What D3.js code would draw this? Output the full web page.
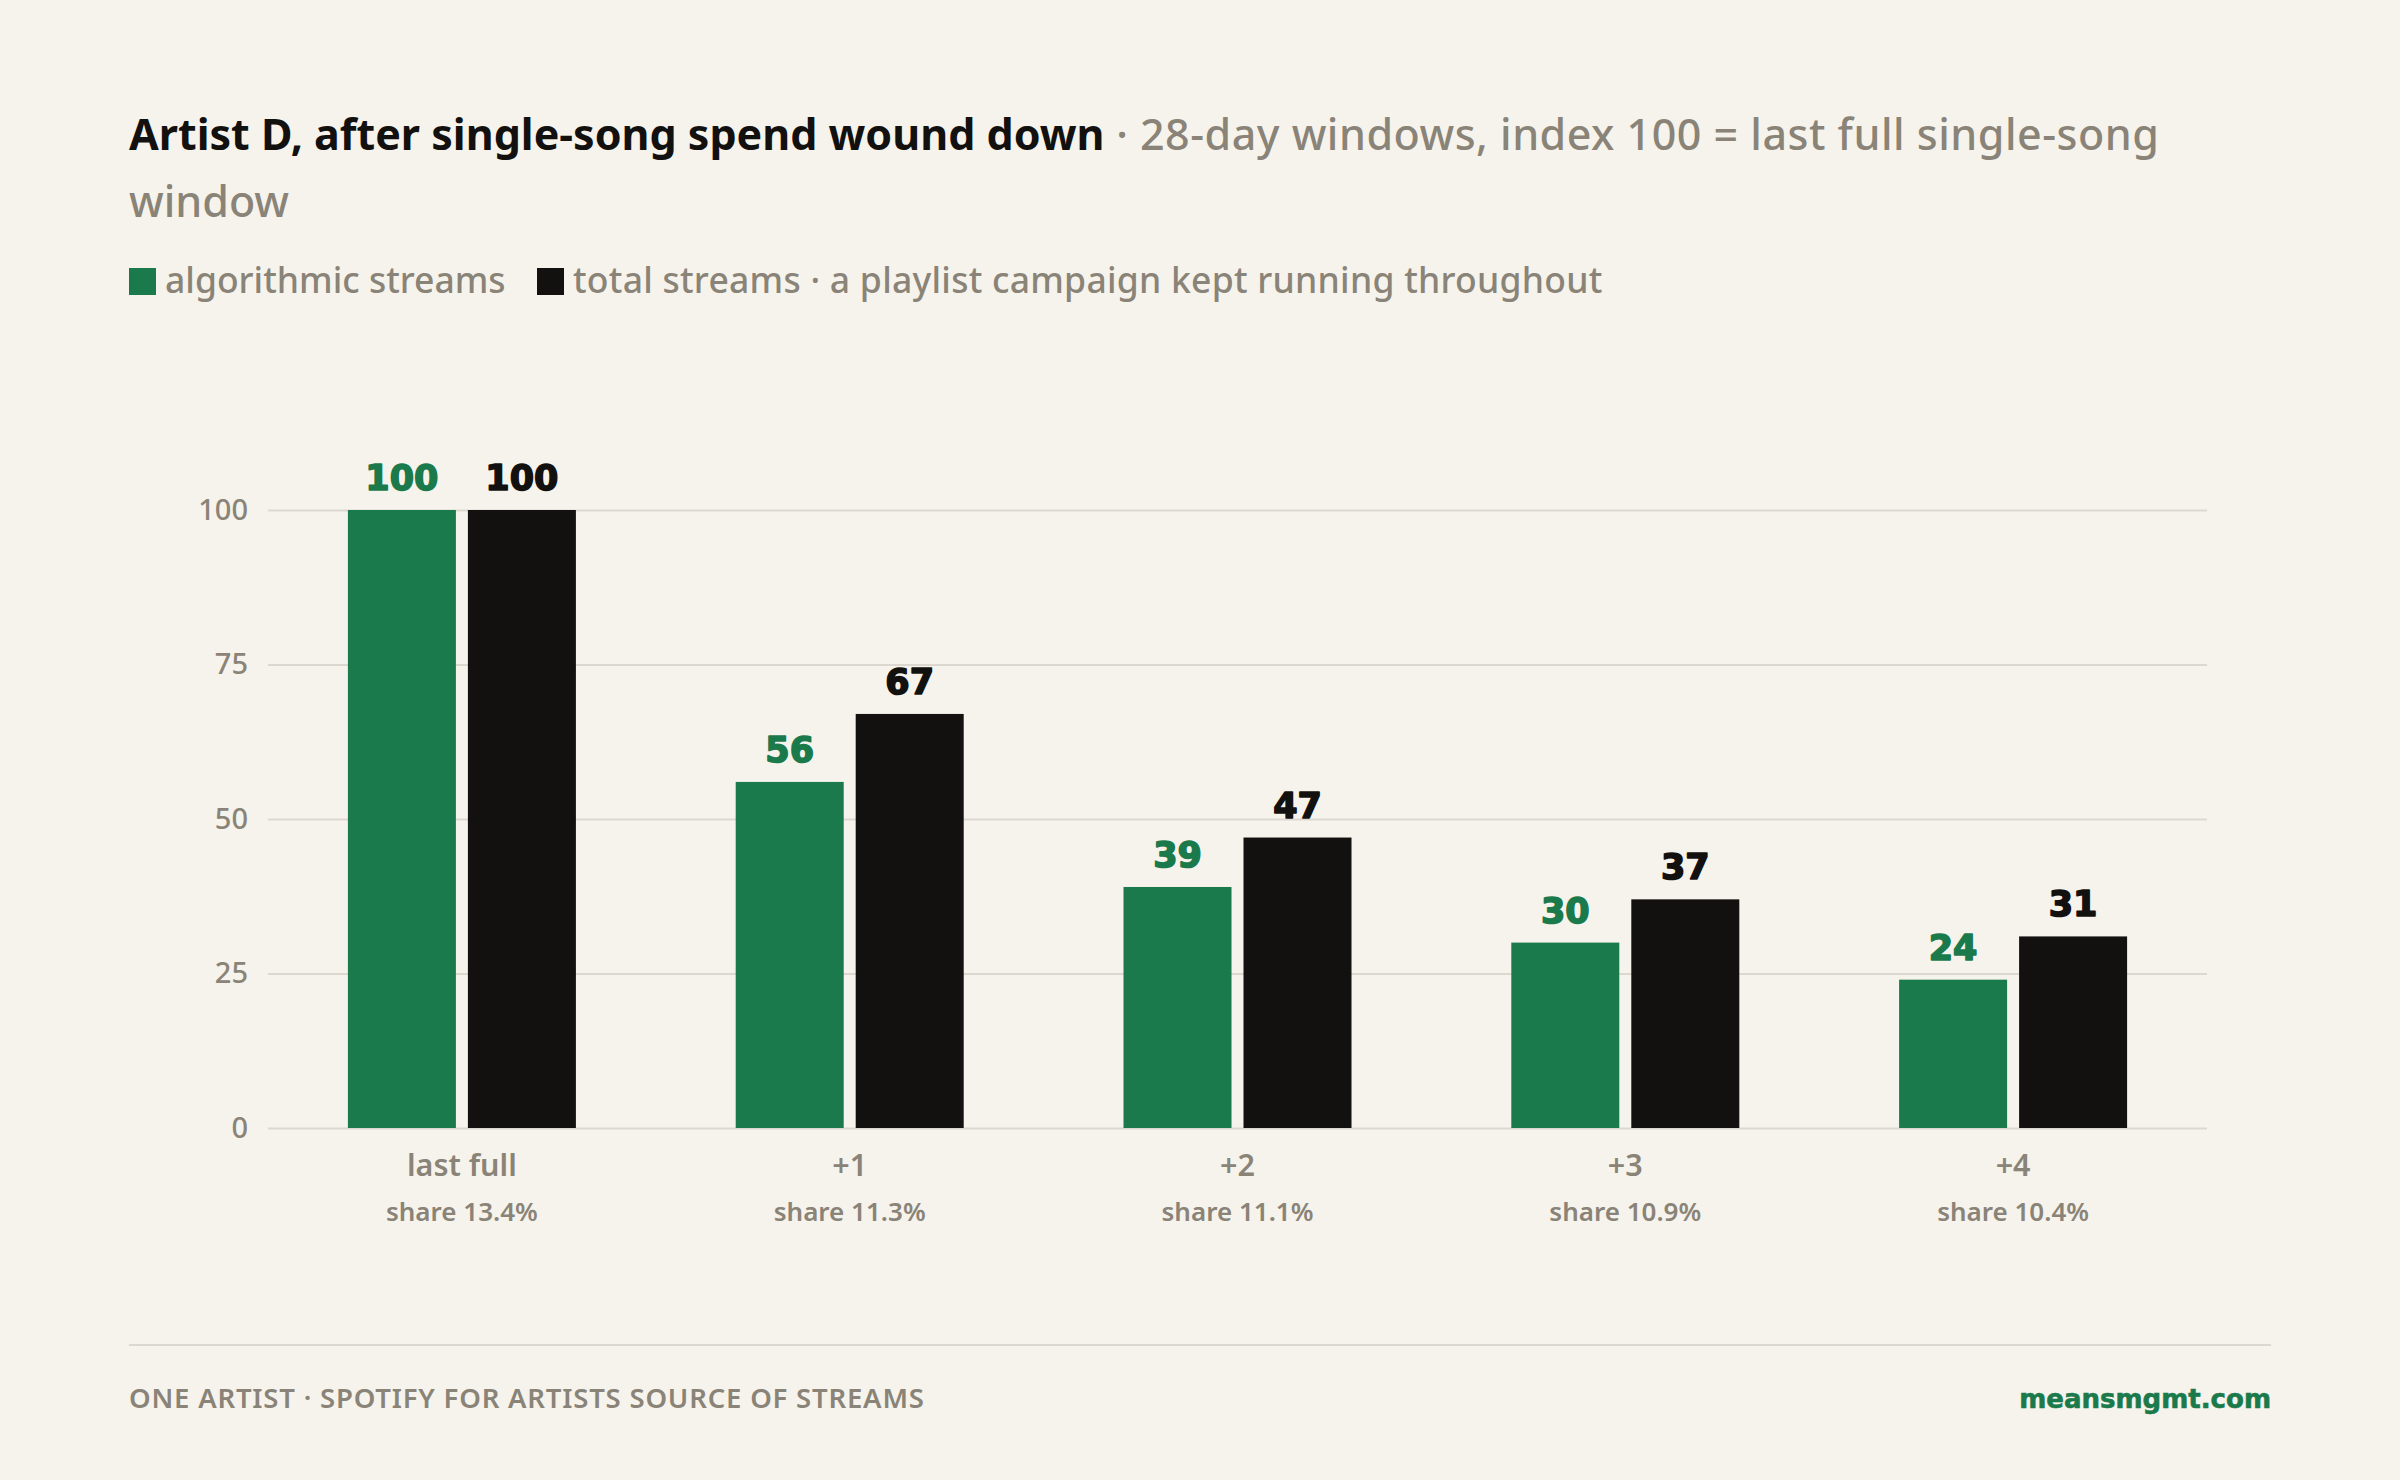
<!DOCTYPE html>
<html><head><meta charset="utf-8">
<script src="https://cdn.jsdelivr.net/npm/d3@7/dist/d3.min.js"></script>
<style>
html,body{margin:0;padding:0;background:#f6f3ec;}
svg{display:block;}
</style></head>
<body>
<script>
const categories = ["last full", "+1", "+2", "+3", "+4"];
const shareLabels = ["share 13.4%", "share 11.3%", "share 11.1%", "share 10.9%", "share 10.4%"];
const algorithmic = [100, 56, 39, 30, 24];
const total = [100, 67, 47, 37, 31];
const seriesNames = ["algorithmic streams", "total streams · a playlist campaign kept running throughout"];
const yTicks = [0, 25, 50, 75, 100];

const W = 2400, H = 1480;
const C = {bg:"#f6f3ec", green:"#1b7a4b", black:"#12110f", gray:"#8a8377", grid:"#ddd8cf"};
const F = "'Noto Sans', 'Open Sans', sans-serif";
const FV = "'DejaVu Sans', sans-serif";

const svg = d3.select("body").append("svg").attr("width", W).attr("height", H);
svg.append("rect").attr("width", W).attr("height", H).attr("fill", C.bg);

// Title
const t = svg.append("text").attr("x", 129).attr("y", 150).attr("font-family", F).attr("font-size", 43);
t.append("tspan").attr("font-weight", 700).attr("fill", C.black).text("Artist D, after single-song spend wound down");
t.append("tspan").attr("font-weight", 500).attr("fill", C.gray).attr("letter-spacing", 0.5).text(" · 28-day windows, index 100 = last full single-song");
svg.append("text").attr("x", 129).attr("y", 217).attr("font-family", F).attr("font-size", 43)
  .attr("font-weight", 500).attr("fill", C.gray).text("window");

// Legend
const legColors = [C.green, C.black];
const legX = [129, 537];
seriesNames.forEach((n, i) => {
  svg.append("rect").attr("x", legX[i]).attr("y", 268).attr("width", 27).attr("height", 27).attr("fill", legColors[i]);
  svg.append("text").attr("x", legX[i] + 36).attr("y", 293).attr("font-family", F).attr("font-size", 35.5)
    .attr("font-weight", 500).attr("fill", C.gray).attr("letter-spacing", i === 1 ? 0.25 : 0).text(n);
});

// Scales
const x0 = d3.scaleBand().domain(categories).range([268, 2207]);
const x1 = d3.scaleBand().domain([0, 1]).range([0, 228]).paddingInner(0.1);
const y = d3.scaleLinear().domain([0, 100]).range([1128, 510]);

// Grid
const yAxis = d3.axisLeft(y).tickValues(yTicks).tickSize(-(2207 - 268)).tickPadding(20);
const ga = svg.append("g").attr("transform", "translate(268,0)").call(yAxis);
ga.select(".domain").remove();
ga.selectAll(".tick line").attr("stroke", C.grid).attr("stroke-width", 2);
ga.selectAll(".tick text").attr("font-family", F).attr("font-size", 29).attr("font-weight", 500).attr("fill", C.gray);

// Bars
const series = [algorithmic, total];
const groups = svg.append("g").selectAll("g").data(categories).join("g")
  .attr("transform", c => `translate(${x0(c) + (x0.bandwidth() - 228) / 2},0)`);
series.forEach((vals, si) => {
  groups.append("rect")
    .attr("x", x1(si)).attr("width", x1.bandwidth())
    .attr("y", (c, i) => y(vals[i])).attr("height", (c, i) => y(0) - y(vals[i]))
    .attr("fill", legColors[si]);
  groups.append("text")
    .attr("x", x1(si) + x1.bandwidth() / 2).attr("y", (c, i) => y(vals[i]) - 20)
    .attr("text-anchor", "middle").attr("font-family", FV).attr("font-weight", 900).attr("font-size", 35)
    .attr("fill", legColors[si]).attr("stroke", legColors[si]).attr("stroke-width", 1.6)
    .attr("stroke-linejoin", "round").text((c, i) => vals[i]);
});

// X labels
const xa = svg.append("g");
categories.forEach((c, i) => {
  const cx = x0(c) + x0.bandwidth() / 2;
  xa.append("text").attr("x", cx).attr("y", 1176).attr("text-anchor", "middle").attr("font-family", F)
    .attr("font-size", 30.5).attr("font-weight", 600).attr("fill", C.gray).text(c);
  xa.append("text").attr("x", cx).attr("y", 1221).attr("text-anchor", "middle").attr("font-family", F)
    .attr("font-size", 26).attr("font-weight", 600).attr("fill", C.gray).text(shareLabels[i]);
});

// Footer
svg.append("line").attr("x1", 129).attr("x2", 2271).attr("y1", 1345).attr("y2", 1345).attr("stroke", C.grid).attr("stroke-width", 2);
svg.append("text").attr("x", 129).attr("y", 1408).attr("font-family", F).attr("font-size", 27.5).attr("font-weight", 600)
  .attr("letter-spacing", 0.8).attr("fill", C.gray).text("ONE ARTIST · SPOTIFY FOR ARTISTS SOURCE OF STREAMS");
svg.append("text").attr("x", 2271).attr("y", 1408).attr("text-anchor", "end").attr("font-family", FV).attr("font-size", 26)
  .attr("font-weight", 700).attr("fill", C.green).attr("stroke", C.green).attr("stroke-width", 0.6).text("meansmgmt.com");
</script>
</body></html>
